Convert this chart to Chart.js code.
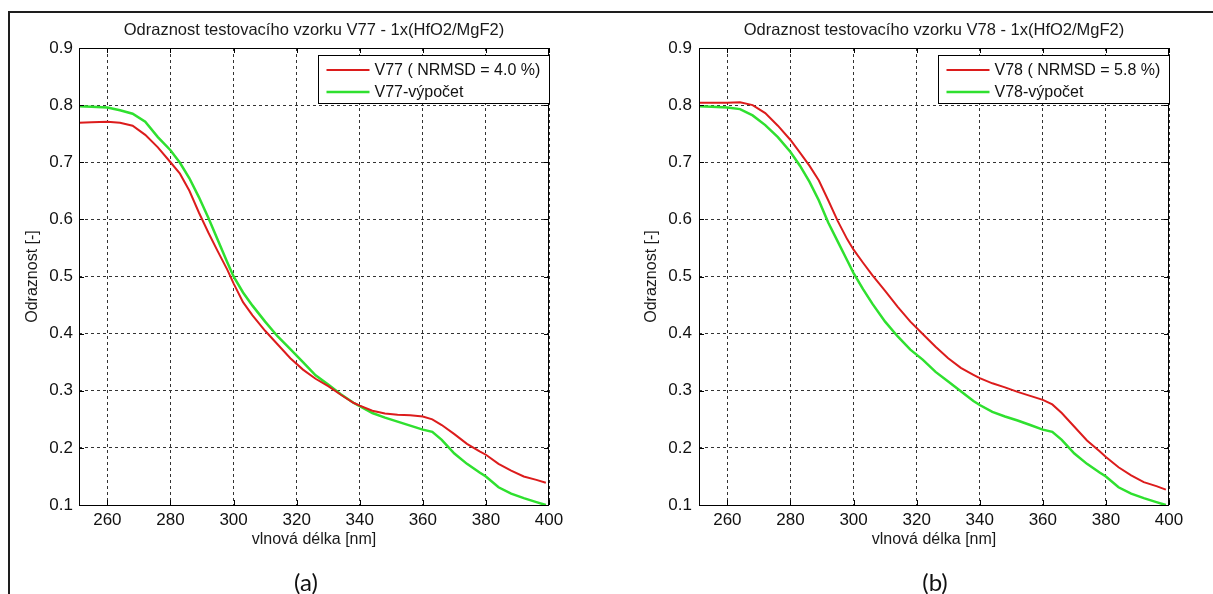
<!DOCTYPE html>
<html>
<head>
<meta charset="utf-8">
<script src="https://cdn.jsdelivr.net/npm/chart.js@4"></script>
<style>
  body { margin: 0; background: #fff; width: 1213px; height: 594px; overflow: hidden; position: relative; }
  .frame { position: absolute; left: 8px; top: 11px; right: 0; bottom: 0; border-top: 2px solid #1e1e1e; border-left: 2px solid #1e1e1e; }
  canvas { position: absolute; top: 0; }
  .cap { position: absolute; top: 569px; line-height: 25px; font-family: Lato, "Open Sans", sans-serif; font-size: 24px; color: #111; transform: translateX(-50%); }
</style>
</head>
<body>
<div class="frame"></div>
<canvas id="chartA" width="606" height="594" style="left:0"></canvas>
<canvas id="chartB" width="607" height="594" style="left:606px"></canvas>
<div class="cap" style="left:306px">(a)</div>
<div class="cap" style="left:935px">(b)</div>
<script>
// wavelength [nm]
const wavelengths = [251, 255, 260, 264, 268, 272, 276, 280, 283, 286, 289, 292, 295, 298, 300, 303, 306, 310, 314, 318,
    322, 326, 330, 334, 338, 340, 344, 348, 352, 356, 360, 363, 366, 370, 374, 378, 380, 384, 388, 392, 396, 399];

const v77Measured = [0.769, 0.770, 0.771, 0.769, 0.764, 0.748, 0.726, 0.700, 0.680, 0.650, 0.612, 0.577, 0.544, 0.512, 0.488, 0.455, 0.432, 0.405, 0.381, 0.357,
    0.337, 0.321, 0.308, 0.293, 0.279, 0.274, 0.265, 0.260, 0.258, 0.257, 0.255, 0.250, 0.240, 0.224, 0.207, 0.194, 0.188, 0.172, 0.160, 0.150, 0.144, 0.139];
const v77Calc = [0.798, 0.797, 0.796, 0.791, 0.785, 0.771, 0.744, 0.721, 0.699, 0.672, 0.639, 0.603, 0.564, 0.525, 0.500, 0.472, 0.449, 0.421, 0.395, 0.373,
    0.350, 0.327, 0.311, 0.294, 0.279, 0.273, 0.261, 0.253, 0.246, 0.239, 0.232, 0.228, 0.214, 0.190, 0.172, 0.157, 0.150, 0.131, 0.120, 0.112, 0.105, 0.100];
const v78Measured = [0.804, 0.804, 0.804, 0.805, 0.800, 0.786, 0.764, 0.739, 0.717, 0.694, 0.668, 0.633, 0.597, 0.565, 0.547, 0.524, 0.502, 0.475, 0.447, 0.421,
    0.399, 0.377, 0.357, 0.340, 0.328, 0.322, 0.313, 0.306, 0.298, 0.291, 0.284, 0.276, 0.261, 0.237, 0.213, 0.194, 0.184, 0.166, 0.152, 0.140, 0.133, 0.127];
const v78Calc = [0.798, 0.797, 0.796, 0.793, 0.782, 0.765, 0.744, 0.718, 0.694, 0.666, 0.633, 0.594, 0.561, 0.528, 0.506, 0.478, 0.452, 0.421, 0.395, 0.372,
    0.354, 0.333, 0.316, 0.299, 0.282, 0.275, 0.263, 0.255, 0.248, 0.240, 0.232, 0.228, 0.214, 0.190, 0.172, 0.157, 0.150, 0.131, 0.120, 0.112, 0.105, 0.100];

const RED = '#dc1c1c';
const GREEN = '#2fe02f';
const FONT = "'Liberation Sans', Arial, sans-serif";

Chart.defaults.font.family = FONT;
Chart.defaults.font.size = 16;
Chart.defaults.color = '#111';

function points(values) {
    return wavelengths.map((x, i) => ({ x: x, y: values[i] }));
}

// box around the plot, inward ticks (matlab style) and the legend inside top-right
const matlabAxes = {
    id: 'matlabAxes',
    afterDraw(chart) {
        const ctx = chart.ctx;
        const a = chart.chartArea;
        const xs = chart.scales.x, ys = chart.scales.y;
        ctx.save();
        ctx.strokeStyle = '#000';
        ctx.lineWidth = 1;
        ctx.setLineDash([]);
        ctx.beginPath();
        xs.ticks.forEach(t => {
            const px = Math.round(xs.getPixelForValue(t.value)) + 0.5;
            ctx.moveTo(px, a.bottom); ctx.lineTo(px, a.bottom - 5);
            ctx.moveTo(px, a.top); ctx.lineTo(px, a.top + 5);
        });
        ys.ticks.forEach(t => {
            const py = Math.round(ys.getPixelForValue(t.value)) + 0.5;
            ctx.moveTo(a.left, py); ctx.lineTo(a.left + 5, py);
            ctx.moveTo(a.right, py); ctx.lineTo(a.right - 5, py);
        });
        ctx.stroke();
        ctx.strokeRect(Math.round(a.left) + 0.5, Math.round(a.top) + 0.5, Math.round(a.width) - 1, Math.round(a.height));

        // legend
        ctx.font = '16px ' + FONT;
        const sets = chart.data.datasets;
        const textW = Math.max(...sets.map(d => ctx.measureText(d.label).width));
        const w = Math.round(8 + 43 + 5 + textW + 9);
        const h = 48;
        const lx = Math.round(a.right) - w + 0.5;
        const ly = Math.round(a.top) + 7 + 0.5;
        ctx.fillStyle = '#fff';
        ctx.fillRect(lx, ly, w, h);
        ctx.strokeRect(lx, ly, w, h);
        ctx.textBaseline = 'middle';
        ctx.textAlign = 'left';
        sets.forEach((d, i) => {
            const cy = ly + 14.5 + i * 22;
            ctx.strokeStyle = d.borderColor;
            ctx.lineWidth = d.borderWidth;
            ctx.beginPath();
            ctx.moveTo(lx + 8, cy); ctx.lineTo(lx + 51, cy);
            ctx.stroke();
            ctx.fillStyle = '#111';
            ctx.fillText(d.label, lx + 56, cy + 1);
        });
        ctx.restore();
    }
};

function makeChart(id, title, measured, calc, names, geo) {
    return new Chart(document.getElementById(id), {
        type: 'line',
        data: {
            datasets: [
                { label: names[0], data: points(measured), borderColor: RED, borderWidth: 2, pointRadius: 0, tension: 0, fill: false },
                { label: names[1], data: points(calc), borderColor: GREEN, borderWidth: 2.5, pointRadius: 0, tension: 0, fill: false },
            ],
        },
        options: {
            responsive: false,
            animation: false,
            layout: { padding: { top: 20.1, left: 0, right: geo.right, bottom: 44.4 } },
            plugins: {
                legend: { display: false },
                tooltip: { enabled: false },
                title: {
                    display: true, text: title, fullSize: false,
                    font: { size: 16.5, weight: 'normal' }, color: '#1a1a1a',
                    padding: { top: 0, bottom: 8.1 },
                },
            },
            scales: {
                x: {
                    type: 'linear', min: 251, max: 400,
                    afterFit: s => { s.height = 44.6; },
                    ticks: { stepSize: 20, includeBounds: false, padding: 5, maxRotation: 0, color: '#111', font: { size: 17 } },
                    grid: { color: '#333', lineWidth: 1, drawTicks: false },
                    border: { display: false, dash: [3, 3] },
                    title: { display: true, text: 'vlnová délka [nm]', padding: { top: 0, bottom: 0 }, color: '#1a1a1a' },
                },
                y: {
                    min: 0.1, max: 0.9,
                    afterFit: s => { s.width = geo.left; },
                    ticks: { stepSize: 0.1, padding: geo.tickPad, color: '#111', font: { size: 17 }, callback: v => v.toFixed(1) },
                    grid: { color: '#333', lineWidth: 1, drawTicks: false },
                    border: { display: false, dash: [3, 3] },
                    title: { display: true, text: 'Odraznost [-]', padding: { top: geo.titlePad, bottom: 0 }, color: '#1a1a1a' },
                },
            },
        },
        plugins: [matlabAxes],
    });
}

makeChart('chartA', 'Odraznost testovacího vzorku V77 - 1x(HfO2/MgF2)', v77Measured, v77Calc,
    ['V77 ( NRMSD = 4.0 %)', 'V77-výpočet'], { left: 79, right: 57, tickPad: 6, titlePad: 23 });
makeChart('chartB', 'Odraznost testovacího vzorku V78 - 1x(HfO2/MgF2)', v78Measured, v78Calc,
    ['V78 ( NRMSD = 5.8 %)', 'V78-výpočet'], { left: 93, right: 44, tickPad: 7, titlePad: 36.4 });
</script>
</body>
</html>
